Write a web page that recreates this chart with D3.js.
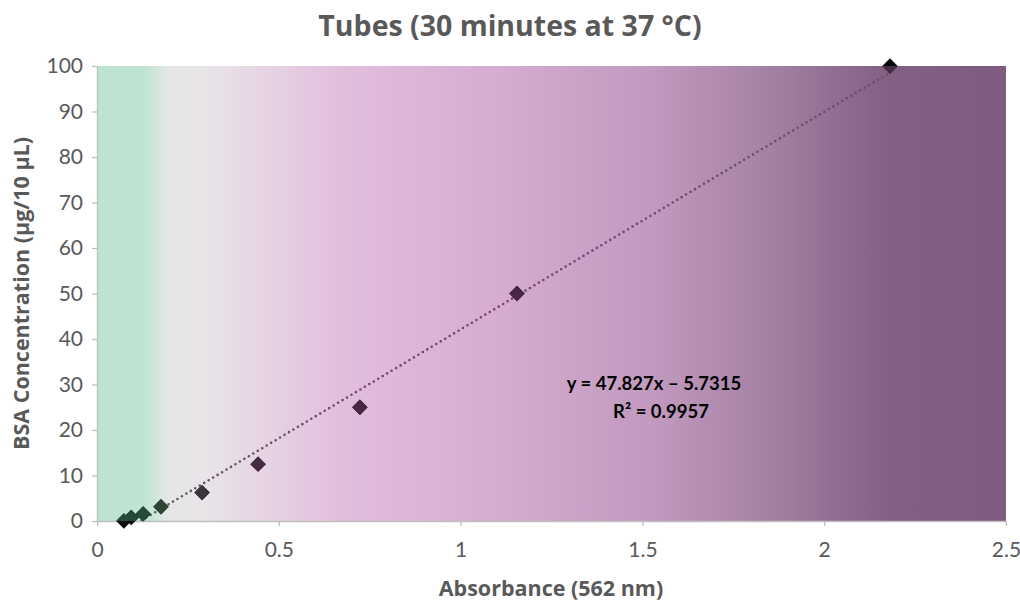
<!DOCTYPE html>
<html>
<head>
<meta charset="utf-8">
<script src="https://cdn.jsdelivr.net/npm/d3@7"></script>
<style>
  body { margin: 0; background: #fff; }
  text { font-family: Lato, "Open Sans", sans-serif; }
</style>
</head>
<body>
<div id="chart"></div>
<script>
// data
var absorbance = [0.074, 0.094, 0.127, 0.176, 0.289, 0.443, 0.723, 1.155, 2.181];
var concentration = [0, 0.78, 1.5625, 3.125, 6.25, 12.5, 25, 50, 100];
var xTicks = [0, 0.5, 1, 1.5, 2, 2.5];
var yTicks = [0, 10, 20, 30, 40, 50, 60, 70, 80, 90, 100];
var slope = 47.827, intercept = -5.7315;
var eqLines = ["y = 47.827x \u2013 5.7315", "R\u00b2 = 0.9957"];

var svgWidth = 1020, svgHeight = 604;
var margin = { top: 66, right: 14, bottom: 83, left: 97 };
var width = svgWidth - margin.left - margin.right;
var height = svgHeight - margin.top - margin.bottom;

// background colour stops (offset within plot width)
var bgStops = [
  [0, "#bce4d0"], [0.052, "#bde5d1"], [0.078, "#e5e6e5"], [0.12, "#e8e4e8"],
  [0.27, "#e2bedd"], [0.44, "#d6acd0"], [0.61, "#c29abf"], [0.75, "#a27fa1"],
  [0.87, "#825f83"], [1, "#7e5b7f"]
];

function darken(c, sMax, l) {
  var h = d3.hsl(c);
  h.s = Math.min(isNaN(h.s) ? 0 : h.s, sMax);
  if (isNaN(h.h)) h.h = 0;
  h.l = l;
  return h.formatHex();
}

var svg = d3.select("#chart").append("svg")
  .attr("width", svgWidth)
  .attr("height", svgHeight);

var defs = svg.append("defs");

function addGradient(id, fn) {
  var g = defs.append("linearGradient")
    .attr("id", id)
    .attr("gradientUnits", "userSpaceOnUse")
    .attr("x1", 0).attr("y1", 0).attr("x2", width).attr("y2", 0);
  bgStops.forEach(function(s) {
    g.append("stop").attr("offset", s[0]).attr("stop-color", fn(s[1]));
  });
}

addGradient("bg", function(c) { return c; });
addGradient("trend", function(c) { return darken(c, 0.25, 0.36); });

defs.append("clipPath").attr("id", "plotClip")
  .append("rect").attr("width", width).attr("height", height);

var chartGroup = svg.append("g")
  .attr("transform", `translate(${margin.left}, ${margin.top})`);

var x = d3.scaleLinear().domain([0, 2.5]).range([0, width]);
var y = d3.scaleLinear().domain([0, 100]).range([height, 0]);

// marker colour = dark version of the background at that x
var bgColor = d3.scaleLinear()
  .domain(bgStops.map(s => s[0] * width))
  .range(bgStops.map(s => s[1]))
  .clamp(true);

chartGroup.append("rect")
  .attr("width", width)
  .attr("height", height)
  .attr("fill", "url(#bg)");

// axes
var bottomAxis = d3.axisBottom(x).tickValues(xTicks).tickSize(5).tickSizeOuter(0)
  .tickFormat(d3.format("~g"));
var leftAxis = d3.axisLeft(y).tickValues(yTicks).tickSize(5).tickSizeOuter(0);

var xAxis = chartGroup.append("g")
  .attr("transform", `translate(0, ${height})`)
  .call(bottomAxis);
var yAxis = chartGroup.append("g").call(leftAxis);

[xAxis, yAxis].forEach(function(a) {
  a.select(".domain").attr("stroke", "#bfbfbf").attr("stroke-width", 1.3);
  a.selectAll(".tick line").attr("stroke", "#bfbfbf").attr("stroke-width", 1.3);
  a.selectAll(".tick text")
    .attr("fill", "#595959")
    .style("font-size", "21px")
    .style("font-family", "Lato, sans-serif");
});
xAxis.selectAll(".tick text").attr("dy", "0.71em").attr("y", 21);
yAxis.selectAll(".tick text").attr("x", -14);

// trendline
var xMin = d3.min(absorbance), xMax = d3.max(absorbance);
chartGroup.append("line")
  .attr("clip-path", "url(#plotClip)")
  .attr("x1", x(xMin)).attr("y1", y(slope * xMin + intercept))
  .attr("x2", x(xMax)).attr("y2", y(slope * xMax + intercept))
  .attr("stroke", "url(#trend)")
  .attr("stroke-width", 2.6)
  .attr("stroke-linecap", "round")
  .attr("stroke-dasharray", "0,5.2");

// markers: black where they stick out of the plot, tinted inside it
var diamond = d3.symbol().type(d3.symbolSquare).size(118);
var points = absorbance.map(function(a, i) { return { x: a, y: concentration[i] }; });

chartGroup.append("g").selectAll("path")
  .data(points)
  .enter()
  .append("path")
  .attr("d", diamond)
  .attr("transform", d => `translate(${x(d.x)}, ${y(d.y)}) rotate(45)`)
  .attr("fill", "#0a0a0a");

chartGroup.append("g")
  .attr("clip-path", "url(#plotClip)")
  .selectAll("path")
  .data(points)
  .enter()
  .append("path")
  .attr("d", diamond)
  .attr("transform", d => `translate(${x(d.x)}, ${y(d.y)}) rotate(45)`)
  .attr("fill", d => darken(bgColor(x(d.x)), 0.34, 0.22));

// equation
chartGroup.append("g").selectAll("text")
  .data(eqLines)
  .enter()
  .append("text")
  .attr("x", (d, i) => i === 0 ? 557 : 564)
  .attr("y", (d, i) => 324 + i * 28)
  .attr("text-anchor", "middle")
  .attr("fill", "#000")
  .style("font-size", "18.5px")
  .style("font-weight", "bold")
  .text(d => d);

// titles
svg.append("text")
  .attr("x", 510)
  .attr("y", 36)
  .attr("text-anchor", "middle")
  .attr("fill", "#595959")
  .style("font-family", "'Open Sans', sans-serif")
  .style("font-size", "28.5px")
  .style("font-weight", "bold")
  .text("Tubes (30 minutes at 37 \u00b0C)");

svg.append("text")
  .attr("x", 551)
  .attr("y", 596)
  .attr("text-anchor", "middle")
  .attr("fill", "#595959")
  .style("font-family", "'Open Sans', sans-serif")
  .style("font-size", "21.5px")
  .style("font-weight", "bold")
  .text("Absorbance (562 nm)");

svg.append("text")
  .attr("transform", `translate(29, ${margin.top + height / 2}) rotate(-90)`)
  .attr("text-anchor", "middle")
  .attr("fill", "#595959")
  .style("font-family", "'Open Sans', sans-serif")
  .style("font-size", "21.5px")
  .style("font-weight", "bold")
  .text("BSA Concentration (\u00b5g/10 \u00b5L)");
</script>
</body>
</html>
